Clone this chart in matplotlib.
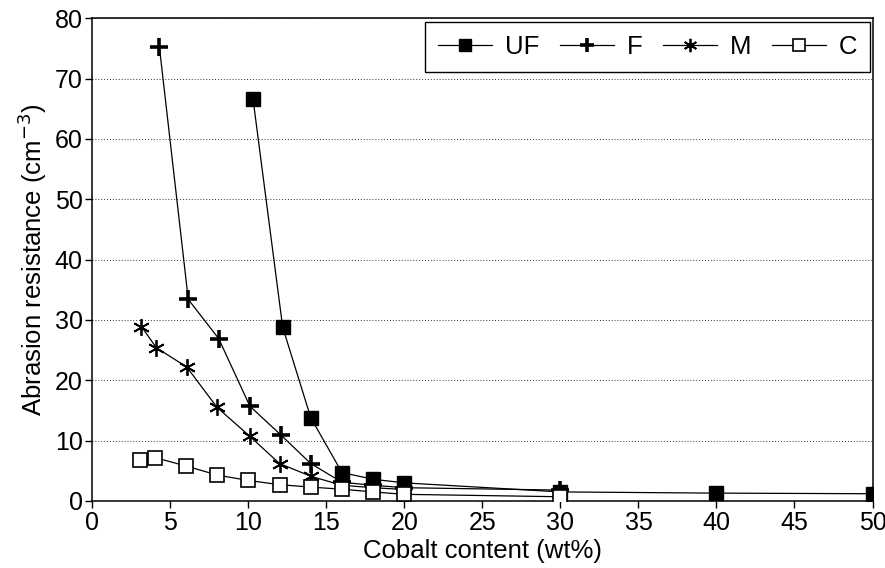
import matplotlib
matplotlib.use("Agg")
import matplotlib.pyplot as plt

plt.rcParams['font.family'] = ['Liberation Sans', 'DejaVu Sans']

uf_x = [10.3, 12.2, 14, 16, 18, 20, 30, 40, 50]
uf_y = [66.6, 28.8, 13.8, 4.7, 3.6, 3.0, 1.5, 1.3, 1.2]

f_x = [4.3, 6.15, 8.1, 10.1, 12.1, 14, 16, 18, 20, 30]
f_y = [75.2, 33.4, 26.9, 15.7, 10.9, 6.2, 3.1, 2.6, 2.2, 1.8]

m_x = [3.15, 4.1, 6.05, 8.0, 10.1, 12.0, 14, 16, 18, 20]
m_y = [28.9, 25.4, 22.2, 15.5, 10.7, 6.2, 4.1, 2.6, 2.2, 1.9]

c_x = [3.05, 4.0, 6.0, 8.0, 10.0, 12.0, 14, 16, 18, 20, 30]
c_y = [6.8, 7.2, 5.8, 4.3, 3.4, 2.7, 2.3, 1.95, 1.5, 1.1, 0.7]

labels = ['UF', 'F', 'M', 'C']
xticks = list(range(0, 55, 5))
yticks = list(range(0, 90, 10))

fig = plt.figure(figsize=(8.85, 5.68), dpi=100)
ax = fig.add_axes([0.1043, 0.118, 0.8816, 0.850])

lw = 0.9
ax.plot(uf_x, uf_y, color='black', lw=lw, marker='s', ms=10, mfc='black', mec='black', label=labels[0], zorder=3)
ax.plot(f_x, f_y, color='black', lw=lw, marker='+', ms=13, mew=2.6, label=labels[1], zorder=3)
ax.plot(m_x, m_y, color='black', lw=lw, marker=(6, 2, 0), ms=12, mew=1.3, label=labels[2], zorder=3)
ax.plot(c_x, c_y, color='black', lw=lw, marker='s', ms=10, mfc='white', mec='black', mew=1.2, label=labels[3], zorder=3)

ax.set_xlim(0, 50)
ax.set_ylim(0, 80)
ax.set_xticks(xticks)
ax.set_yticks(yticks)
ax.tick_params(axis='both', direction='out', length=5, width=1, labelsize=18, colors='black', pad=2)
ax.yaxis.grid(True, linestyle=(0, (1, 2)), color='#333333', lw=0.7)
ax.set_axisbelow(True)
for s in ax.spines.values():
    s.set_linewidth(1.1)
    s.set_color('black')

ax.set_xlabel('Cobalt content (wt%)', fontsize=18.5, labelpad=3)
ax.set_ylabel('Abrasion resistance (cm$^{-3}$)', fontsize=18.5, labelpad=4)

leg = ax.legend(loc='upper right', bbox_to_anchor=(0.997, 0.992), ncol=4, fontsize=18.5,
                frameon=True, fancybox=False, edgecolor='black', framealpha=1,
                handlelength=2.1, columnspacing=0.8, handletextpad=0.5,
                borderpad=0.5, borderaxespad=0, markerscale=0.8)
leg.get_frame().set_linewidth(1.0)

fig.savefig('out.png', dpi=100)
